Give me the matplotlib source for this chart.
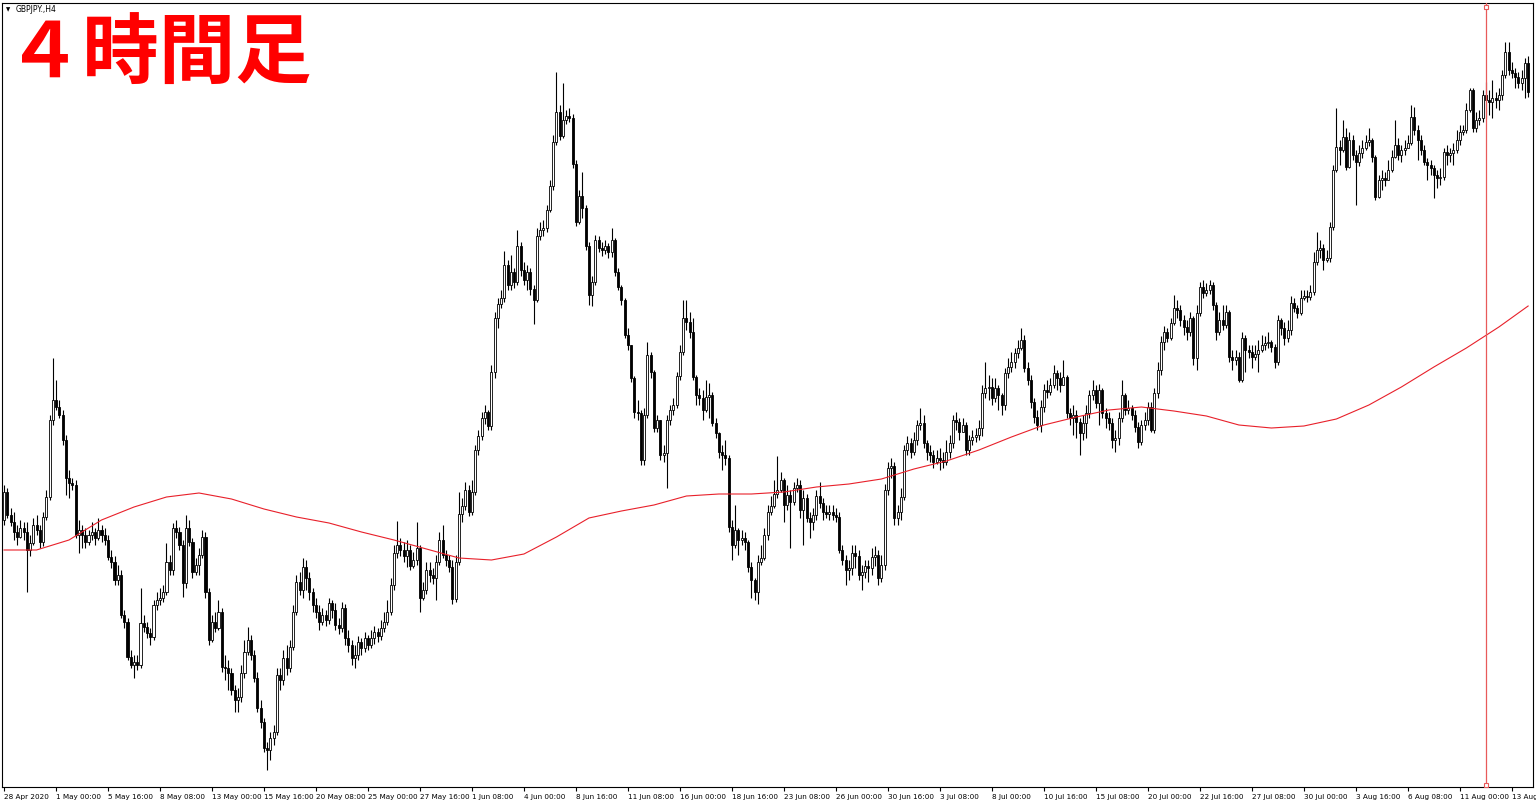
import matplotlib
matplotlib.use("Agg")
import matplotlib.pyplot as plt
import matplotlib.transforms as mtransforms

# GBPJPY H4 candles, 28 Apr 2020 08:00 onwards
first_open = 135.80

close = [
    136.08, 135.85, 135.78, 135.68, 135.63, 135.72, 135.68, 135.50, 135.57, 135.75,
    135.70, 135.58, 135.83, 136.03, 136.80, 137.00, 136.93, 136.85, 136.60, 136.22,
    136.17, 136.15, 135.65, 135.70, 135.65, 135.58, 135.65, 135.68, 135.62, 135.70,
    135.65, 135.60, 135.43, 135.38, 135.20, 135.25, 134.85, 134.78, 134.43, 134.35,
    134.38, 134.35, 134.77, 134.73, 134.67, 134.63, 134.95, 135.00, 135.02, 135.08,
    135.38, 135.30, 135.72, 135.68, 135.55, 135.17, 135.72, 135.58, 135.28, 135.35,
    135.45, 135.63, 135.08, 134.60, 134.78, 134.72, 134.88, 134.33, 134.32, 134.27,
    134.10, 134.00, 134.03, 134.27, 134.48, 134.60, 134.45, 134.22, 133.92, 133.78,
    133.52, 133.50, 133.62, 133.68, 134.25, 134.20, 134.42, 134.32, 134.53, 134.88,
    135.18, 135.10, 135.33, 135.22, 135.08, 134.95, 134.88, 134.78, 134.85, 134.80,
    134.97, 134.90, 134.75, 134.72, 134.92, 134.62, 134.55, 134.42, 134.45, 134.58,
    134.52, 134.62, 134.55, 134.62, 134.68, 134.64, 134.72, 134.78, 134.88, 135.15,
    135.47, 135.55, 135.50, 135.44, 135.50, 135.34, 135.40, 135.52, 135.02, 135.10,
    135.30, 135.25, 135.22, 135.38, 135.60, 135.45, 135.40, 135.33, 135.01, 135.38,
    135.86, 135.94, 136.10, 135.88, 136.08, 136.50, 136.64, 136.82, 136.88, 136.74,
    137.28, 137.82, 137.96, 138.02, 138.35, 138.15, 138.28, 138.18, 138.54, 138.30,
    138.20, 138.28, 138.11, 138.00, 138.64, 138.70, 138.72, 138.90, 139.14, 139.58,
    139.88, 139.64, 139.80, 139.84, 139.82, 139.36, 138.78, 139.04, 138.92, 138.54,
    138.05, 138.18, 138.60, 138.52, 138.50, 138.54, 138.48, 138.60, 138.28, 138.13,
    138.00, 137.65, 137.55, 137.22, 136.88, 136.87, 136.40, 136.85, 137.45, 137.28,
    136.72, 136.80, 136.45, 136.47, 136.80, 136.90, 136.95, 137.24, 137.48, 137.82,
    137.78, 137.68, 137.23, 137.05, 137.02, 136.90, 137.03, 137.05, 136.77, 136.67,
    136.48, 136.45, 136.42, 135.73, 135.55, 135.70, 135.60, 135.62, 135.58, 135.33,
    135.20, 135.08, 135.38, 135.42, 135.65, 135.88, 135.94, 136.06, 136.10, 136.20,
    135.95, 136.05, 135.98, 136.12, 136.15, 135.90, 136.02, 135.82, 135.78, 135.85,
    136.04, 135.97, 135.88, 135.86, 135.88, 135.85, 135.83, 135.50, 135.40, 135.30,
    135.32, 135.47, 135.44, 135.25, 135.28, 135.34, 135.32, 135.43, 135.45, 135.22,
    135.35, 136.10, 136.32, 136.34, 135.82, 135.88, 136.03, 136.50, 136.57, 136.48,
    136.60, 136.75, 136.77, 136.57, 136.48, 136.45, 136.38, 136.42, 136.40, 136.38,
    136.48, 136.57, 136.80, 136.78, 136.68, 136.75, 136.50, 136.60, 136.63, 136.65,
    136.72, 137.07, 137.12, 137.13, 137.02, 137.12, 137.05, 136.95, 137.27, 137.33,
    137.38, 137.47, 137.52, 137.60, 137.32, 137.20, 136.98, 136.83, 136.75, 136.93,
    137.10, 137.08, 137.15, 137.27, 137.22, 137.15, 137.23, 136.87, 136.82, 136.85,
    136.78, 136.67, 136.77, 136.87, 137.05, 137.10, 136.97, 137.10, 136.87, 136.82,
    136.77, 136.60, 136.62, 136.82, 137.05, 136.90, 136.92, 136.85, 136.73, 136.58,
    136.75, 136.80, 136.93, 136.70, 137.07, 137.30, 137.58, 137.68, 137.62, 137.77,
    137.92, 137.90, 137.80, 137.73, 137.68, 137.82, 137.42, 137.87, 138.13, 138.07,
    138.10, 138.15, 137.95, 137.68, 137.80, 137.75, 137.88, 137.43, 137.40, 137.43,
    137.20, 137.62, 137.50, 137.48, 137.43, 137.46, 137.50, 137.55, 137.57, 137.58,
    137.53, 137.38, 137.80, 137.72, 137.62, 137.70, 137.97, 137.92, 137.87, 138.02,
    138.04, 138.03, 138.08, 138.38, 138.50, 138.52, 138.40, 138.42, 138.73, 139.30,
    139.53, 139.50, 139.63, 139.33, 139.60, 139.45, 139.38, 139.47, 139.52, 139.58,
    139.60, 139.43, 139.03, 139.20, 139.22, 139.20, 139.30, 139.43, 139.55, 139.45,
    139.50, 139.52, 139.57, 139.83, 139.70, 139.60, 139.50, 139.38, 139.35, 139.32,
    139.25, 139.22, 139.23, 139.48, 139.45, 139.47, 139.50, 139.60, 139.68, 139.70,
    139.90, 140.10, 139.72, 139.80, 139.82, 140.05, 140.00, 139.98, 140.02, 140.00,
    140.05, 140.25, 140.48, 140.30, 140.27, 140.23, 140.17, 140.22, 140.37, 140.08,
]

high = [
    136.15, 136.12, 135.92, 135.88, 135.75, 135.80, 135.78, 135.78, 135.65, 135.82,
    135.85, 135.75, 135.88, 136.10, 136.85, 137.42, 137.20, 137.00, 136.90, 136.65,
    136.30, 136.22, 136.20, 135.80, 135.75, 135.72, 135.70, 135.78, 135.72, 135.82,
    135.75, 135.72, 135.65, 135.50, 135.44, 135.35, 135.30, 134.90, 134.82, 134.50,
    134.45, 134.45, 135.12, 134.85, 134.78, 134.72, 135.00, 135.08, 135.12, 135.15,
    135.57, 135.45, 135.77, 135.80, 135.73, 135.60, 135.85, 135.80, 135.62, 135.42,
    135.52, 135.70, 135.68, 135.12, 134.85, 134.88, 135.00, 134.92, 134.45, 134.40,
    134.32, 134.15, 134.12, 134.35, 134.60, 134.73, 134.65, 134.50, 134.28, 134.00,
    133.82, 133.58, 133.68, 133.75, 134.32, 134.32, 134.50, 134.55, 134.60, 134.95,
    135.25, 135.28, 135.42, 135.40, 135.28, 135.12, 135.02, 134.95, 134.92, 134.90,
    135.02, 135.00, 134.97, 134.82, 134.98, 134.96, 134.70, 134.60, 134.55, 134.64,
    134.62, 134.68, 134.65, 134.70, 134.74, 134.72, 134.80, 134.88, 135.00, 135.22,
    135.55, 135.79, 135.62, 135.58, 135.60, 135.55, 135.48, 135.78, 135.55, 135.18,
    135.38, 135.38, 135.32, 135.45, 135.68, 135.75, 135.50, 135.45, 135.40, 135.45,
    136.08, 136.02, 136.18, 136.15, 136.20, 136.55, 136.70, 136.88, 136.95, 136.90,
    137.35, 137.88, 138.02, 138.10, 138.49, 138.40, 138.45, 138.32, 138.70, 138.58,
    138.38, 138.35, 138.32, 138.15, 138.72, 138.78, 138.80, 138.95, 139.20, 139.65,
    140.28, 139.95, 140.17, 139.90, 139.92, 139.86, 139.40, 139.10, 139.28, 138.95,
    138.58, 138.24, 138.65, 138.64, 138.58, 138.60, 138.57, 138.72, 138.62, 138.32,
    138.15, 138.02, 137.72, 137.55, 137.24, 137.00, 136.90, 136.92, 137.58, 137.48,
    137.30, 136.85, 136.80, 136.55, 136.85, 136.95, 137.02, 137.28, 137.55, 138.00,
    138.00, 137.88, 137.82, 137.25, 137.12, 137.10, 137.20, 137.17, 137.08, 136.82,
    136.68, 136.55, 136.60, 136.45, 135.80, 135.95, 135.72, 135.70, 135.68, 135.60,
    135.38, 135.22, 135.45, 135.55, 135.72, 135.95, 136.04, 136.20, 136.44, 136.28,
    136.22, 136.15, 136.10, 136.18, 136.22, 136.20, 136.10, 136.06, 135.88, 135.92,
    136.10, 136.18, 136.02, 135.95, 135.95, 135.95, 135.92, 135.88, 135.55, 135.45,
    135.40, 135.55, 135.55, 135.50, 135.35, 135.40, 135.40, 135.52, 135.54, 135.50,
    135.45, 136.16, 136.38, 136.42, 136.38, 135.95, 136.12, 136.55, 136.64, 136.62,
    136.68, 136.80, 136.92, 136.85, 136.60, 136.55, 136.50, 136.50, 136.52, 136.48,
    136.60, 136.65, 136.85, 136.88, 136.82, 136.82, 136.78, 136.65, 136.70, 136.72,
    136.80, 137.15, 137.38, 137.25, 137.22, 137.22, 137.15, 137.07, 137.32, 137.42,
    137.48, 137.52, 137.60, 137.72, 137.65, 137.38, 137.25, 137.02, 136.90, 137.00,
    137.16, 137.20, 137.22, 137.35, 137.30, 137.28, 137.40, 137.25, 136.92, 136.95,
    136.90, 136.82, 136.85, 136.95, 137.10, 137.20, 137.15, 137.16, 137.12, 136.92,
    136.88, 136.82, 136.70, 136.88, 137.20, 137.07, 137.00, 136.95, 136.90, 136.78,
    136.80, 136.88, 136.98, 136.98, 137.12, 137.38, 137.64, 137.74, 137.72, 137.82,
    138.05, 138.00, 137.95, 137.85, 137.80, 137.88, 137.84, 137.95, 138.18, 138.20,
    138.17, 138.20, 138.18, 137.98, 137.88, 137.95, 137.95, 137.90, 137.50, 137.50,
    137.48, 137.68, 137.65, 137.55, 137.55, 137.55, 137.60, 137.65, 137.64, 137.68,
    137.60, 137.56, 137.85, 137.82, 137.78, 137.80, 138.04, 138.02, 137.95, 138.10,
    138.10, 138.10, 138.15, 138.48, 138.68, 138.60, 138.56, 138.50, 138.78, 139.35,
    139.92, 139.60, 139.80, 139.72, 139.68, 139.65, 139.50, 139.55, 139.60, 139.65,
    139.72, 139.62, 139.45, 139.25, 139.30, 139.28, 139.40, 139.50, 139.80, 139.62,
    139.55, 139.60, 139.65, 139.95, 139.93, 139.75, 139.65, 139.55, 139.42, 139.40,
    139.35, 139.30, 139.32, 139.52, 139.55, 139.52, 139.57, 139.70, 139.75, 139.75,
    139.97, 140.12, 140.12, 139.88, 139.90, 140.10, 140.18, 140.10, 140.20, 140.08,
    140.12, 140.30, 140.58, 140.58, 140.38, 140.32, 140.28, 140.30, 140.42, 140.44,
]

low = [
    135.75, 135.82, 135.74, 135.60, 135.55, 135.62, 135.60, 135.08, 135.44, 135.55,
    135.65, 135.52, 135.54, 135.80, 136.00, 136.75, 136.90, 136.82, 136.55, 136.05,
    136.02, 136.10, 135.62, 135.47, 135.52, 135.52, 135.55, 135.60, 135.55, 135.60,
    135.58, 135.55, 135.40, 135.32, 135.15, 135.15, 134.82, 134.72, 134.40, 134.32,
    134.22, 134.30, 134.32, 134.68, 134.62, 134.55, 134.60, 134.90, 134.95, 134.98,
    135.05, 135.25, 135.25, 135.62, 135.50, 135.03, 135.12, 135.54, 135.22, 135.25,
    135.25, 135.42, 135.02, 134.55, 134.58, 134.68, 134.70, 134.28, 134.20, 134.10,
    134.05, 133.88, 133.88, 133.98, 134.22, 134.45, 134.40, 134.18, 133.88, 133.72,
    133.48, 133.30, 133.40, 133.55, 133.65, 134.10, 134.15, 134.25, 134.28, 134.50,
    134.85, 135.05, 135.02, 135.10, 135.00, 134.88, 134.82, 134.70, 134.75, 134.74,
    134.76, 134.82, 134.70, 134.66, 134.68, 134.55, 134.48, 134.35, 134.32, 134.40,
    134.45, 134.48, 134.50, 134.52, 134.56, 134.58, 134.60, 134.68, 134.75, 134.85,
    135.10, 135.42, 135.44, 135.38, 135.33, 135.30, 135.32, 135.35, 134.88, 135.00,
    135.06, 135.18, 135.16, 135.00, 135.35, 135.42, 135.34, 135.28, 134.96, 134.98,
    135.35, 135.78, 135.90, 135.84, 135.85, 136.05, 136.45, 136.60, 136.76, 136.70,
    136.70, 137.22, 137.72, 137.92, 137.98, 138.10, 138.10, 138.12, 138.15, 138.24,
    138.15, 138.10, 138.05, 137.76, 137.98, 138.60, 138.64, 138.68, 138.88, 139.10,
    139.55, 139.60, 139.62, 139.76, 139.78, 139.32, 138.74, 138.76, 138.82, 138.50,
    137.95, 137.94, 138.15, 138.48, 138.44, 138.46, 138.42, 138.43, 138.24, 138.10,
    137.95, 137.62, 137.50, 137.18, 136.82, 136.80, 136.35, 136.35, 136.82, 137.22,
    136.68, 136.68, 136.40, 136.38, 136.12, 136.75, 136.85, 136.92, 137.20, 137.45,
    137.70, 137.62, 137.20, 136.95, 136.95, 136.80, 136.88, 136.82, 136.74, 136.62,
    136.42, 136.30, 136.35, 135.68, 135.40, 135.52, 135.45, 135.55, 135.50, 135.28,
    135.02, 135.00, 134.96, 135.35, 135.40, 135.60, 135.85, 135.92, 136.02, 136.08,
    135.78, 135.90, 135.52, 135.95, 136.08, 135.82, 135.55, 135.78, 135.62, 135.70,
    135.80, 135.92, 135.80, 135.82, 135.80, 135.80, 135.78, 135.47, 135.35, 135.15,
    135.20, 135.25, 135.32, 135.20, 135.10, 135.22, 135.18, 135.25, 135.34, 135.15,
    135.18, 135.30, 136.05, 136.22, 135.75, 135.75, 135.80, 136.00, 136.45, 136.42,
    136.45, 136.55, 136.70, 136.52, 136.40, 136.38, 136.32, 136.36, 136.30, 136.32,
    136.35, 136.42, 136.52, 136.70, 136.60, 136.68, 136.45, 136.45, 136.55, 136.58,
    136.60, 136.64, 137.02, 137.00, 136.95, 136.98, 136.90, 136.85, 136.90, 137.22,
    137.28, 137.32, 137.42, 137.50, 137.28, 137.15, 136.92, 136.77, 136.70, 136.68,
    136.88, 137.02, 137.05, 137.12, 137.10, 137.08, 137.15, 136.82, 136.75, 136.65,
    136.62, 136.45, 136.60, 136.62, 136.82, 137.00, 136.92, 136.75, 136.82, 136.72,
    136.70, 136.52, 136.48, 136.55, 136.78, 136.85, 136.86, 136.80, 136.68, 136.52,
    136.55, 136.70, 136.75, 136.68, 136.67, 137.02, 137.25, 137.50, 137.58, 137.60,
    137.75, 137.82, 137.74, 137.65, 137.60, 137.64, 137.35, 137.30, 137.84, 138.02,
    138.04, 138.06, 137.90, 137.60, 137.65, 137.70, 137.72, 137.38, 137.30, 137.35,
    137.18, 137.18, 137.28, 137.42, 137.32, 137.40, 137.28, 137.48, 137.50, 137.52,
    137.48, 137.32, 137.35, 137.65, 137.55, 137.58, 137.65, 137.88, 137.82, 137.85,
    138.00, 137.98, 138.00, 138.05, 138.35, 138.42, 138.30, 138.38, 138.38, 138.70,
    139.28, 139.35, 139.48, 139.30, 139.32, 139.40, 138.95, 139.34, 139.42, 139.50,
    139.54, 139.38, 139.00, 139.02, 139.10, 139.14, 139.20, 139.28, 139.42, 139.40,
    139.38, 139.45, 139.52, 139.55, 139.65, 139.40, 139.45, 139.35, 139.20, 139.25,
    139.02, 139.12, 139.15, 139.20, 139.35, 139.38, 139.35, 139.47, 139.55, 139.65,
    139.67, 139.88, 139.68, 139.68, 139.75, 139.78, 139.82, 139.85, 139.82, 139.92,
    139.90, 140.00, 140.22, 140.25, 140.22, 140.12, 140.12, 140.10, 140.02, 140.03,
]

# red moving average, read every 10 bars
ma_bars = list(range(0, 470, 10)) + [469]
ma_vals = [
    135.50, 135.50, 135.60, 135.80, 135.93, 136.03, 136.07, 136.01, 135.91, 135.83,
    135.77, 135.68, 135.60, 135.51, 135.42, 135.40, 135.46, 135.63, 135.82, 135.89,
    135.95, 136.04, 136.06, 136.06, 136.08, 136.13, 136.16, 136.21, 136.31, 136.39,
    136.50, 136.63, 136.75, 136.83, 136.90, 136.93, 136.89, 136.84, 136.75, 136.72,
    136.74, 136.81, 136.95, 137.13, 137.33, 137.52, 137.73, 137.94,
]

tick_labels = [
    "28 Apr 2020", "1 May 00:00", "5 May 16:00", "8 May 08:00", "13 May 00:00",
    "15 May 16:00", "20 May 08:00", "25 May 00:00", "27 May 16:00", "1 Jun 08:00",
    "4 Jun 00:00", "8 Jun 16:00", "11 Jun 08:00", "16 Jun 00:00", "18 Jun 16:00",
    "23 Jun 08:00", "26 Jun 00:00", "30 Jun 16:00", "3 Jul 08:00", "8 Jul 00:00",
    "10 Jul 16:00", "15 Jul 08:00", "20 Jul 00:00", "22 Jul 16:00", "27 Jul 08:00",
    "30 Jul 00:00", "3 Aug 16:00", "6 Aug 08:00", "11 Aug 00:00", "13 Aug 16:00",
]
tick_step = 16
vline_bar = 456

opens = [first_open] + close[:-1]
xs = list(range(len(close)))

W, H = 1536, 807
fig = plt.figure(figsize=(W / 100, H / 100), dpi=100, facecolor="white")
ax = fig.add_axes([2 / W, 20 / H, 1531 / W, 784 / H])
ax.set_facecolor("white")

# wicks then bodies
ax.vlines(xs, low, high, color="black", lw=0.8, zorder=2)
bull = [i for i in xs if close[i] >= opens[i]]
bear = [i for i in xs if close[i] < opens[i]]
ax.bar(bull, [close[i] - opens[i] for i in bull], bottom=[opens[i] for i in bull],
       width=0.62, color="white", edgecolor="black", linewidth=0.6, zorder=3)
ax.bar(bear, [opens[i] - close[i] for i in bear], bottom=[close[i] for i in bear],
       width=0.62, color="black", edgecolor="black", linewidth=0.6, zorder=3)

ax.plot(ma_bars, ma_vals, color="#e8202a", lw=0.8, zorder=4)

ax.axvline(vline_bar, color="#e85a5a", lw=0.9, zorder=5)
ax.plot([vline_bar, vline_bar], [0.995, 0.003], transform=ax.get_xaxis_transform(),
        ls="none", marker="s", ms=3.5, mfc="white", mec="#e85a5a", mew=0.8, zorder=6,
        clip_on=False)

ax.set_xlim(-0.62, 470.5)
ax.set_ylim(133.13, 140.97)
ax.set_yticks([])
ax.set_xticks(list(range(0, len(tick_labels) * tick_step, tick_step)))
ax.set_xticklabels(tick_labels, fontsize=5.2, family="DejaVu Sans", ha="left")
offset = mtransforms.ScaledTranslation(2 / 100, 0, fig.dpi_scale_trans)
for lab in ax.get_xticklabels():
    lab.set_transform(lab.get_transform() + offset)
ax.tick_params(axis="x", direction="out", length=3, width=0.8, pad=2, colors="black")
for s in ax.spines.values():
    s.set_color("black")
    s.set_linewidth(0.8)

# instrument label and big title
fig.text(6 / W, 1 - 10 / H, "\u25bc", fontsize=4, va="center", ha="left")
fig.text(16 / W, 1 - 10 / H, "GBPJPY.,H4", fontsize=5.5, va="center", ha="left",
         family="DejaVu Sans")
fig.text(6 / W, 1 - 78 / H, "\uff14時間足", fontsize=55, color="#ff0000",
         fontweight="bold", va="baseline", ha="left",
         family=["Noto Sans CJK JP", "DejaVu Sans"])

fig.savefig("out.png", dpi=100, facecolor="white")
